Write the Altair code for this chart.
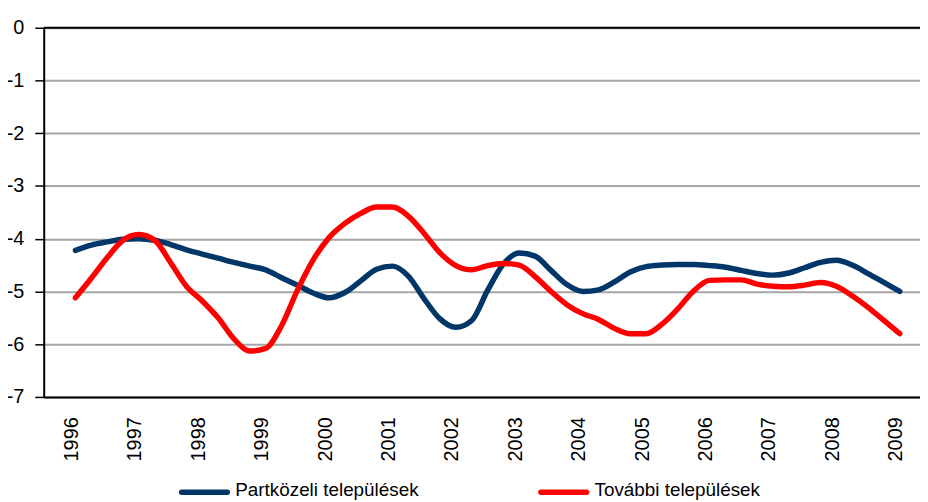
import altair as alt
import pandas as pd

# quarterly periods 1996 Q1 .. 2009 Q1
periods = [1996 + q / 4 for q in range(53)]

partkozeli = [
    -4.22, -4.12, -4.06, -4.01, -4.00, -4.03, -4.11, -4.21,
    -4.29, -4.37, -4.45, -4.52, -4.59, -4.74, -4.88, -5.03,
    -5.12, -5.02, -4.80, -4.58, -4.52, -4.71, -5.14, -5.52,
    -5.68, -5.55, -4.98, -4.48, -4.27, -4.33, -4.60, -4.87,
    -5.00, -4.97, -4.82, -4.63, -4.53, -4.50, -4.49, -4.49,
    -4.51, -4.54, -4.60, -4.66, -4.69, -4.65, -4.55, -4.45,
    -4.41, -4.50, -4.66, -4.83, -5.00,
]

tovabbi = [
    -5.12, -4.75, -4.36, -4.03, -3.92, -4.03, -4.45, -4.90,
    -5.18, -5.50, -5.90, -6.13, -6.08, -5.65, -4.98, -4.40,
    -3.98, -3.71, -3.52, -3.40, -3.40, -3.57, -3.90, -4.27,
    -4.51, -4.59, -4.51, -4.47, -4.50, -4.72, -5.00, -5.25,
    -5.42, -5.53, -5.70, -5.80, -5.80, -5.62, -5.33, -4.99,
    -4.79, -4.78, -4.78, -4.86, -4.90, -4.91, -4.88, -4.83,
    -4.90, -5.08, -5.30, -5.55, -5.80,
]

series_names = ["Partközeli települések", "További települések"]
series_colors = ["#003768", "#ff0000"]
year_ticks = list(range(1996, 2010))
y_ticks = [0, -1, -2, -3, -4, -5, -6, -7]

rows = []
for p, v in zip(periods, partkozeli):
    rows.append({"t": p, "v": v, "s": series_names[0]})
for p, v in zip(periods, tovabbi):
    rows.append({"t": p, "v": v, "s": series_names[1]})
df = pd.DataFrame(rows)

FONT = "Liberation Sans Narrow, Arial Narrow, Liberation Sans, Arial"

x_scale = alt.Scale(domain=[1995.5, 2009.32], nice=False, zero=False)
y_scale = alt.Scale(domain=[-7, 0], nice=False, zero=False)
color_scale = alt.Scale(domain=series_names, range=series_colors)

lines = alt.Chart(df).mark_line(
    strokeWidth=5.5, strokeCap="round", strokeJoin="round", interpolate="monotone"
).encode(
    x=alt.X("t:Q", scale=x_scale, title=None,
            axis=alt.Axis(values=year_ticks, format="d", labelAngle=-90,
                          labelFont=FONT, labelFontSize=20, labelColor="black",
                          labelPadding=20, ticks=False, grid=False,
                          domainColor="black", domainWidth=2, labelOffset=-4,
                          labelFlush=False, labelOverlap=False)),
    y=alt.Y("v:Q", scale=y_scale, title=None,
            axis=alt.Axis(values=y_ticks, labelExpr="toString(datum.value)",
                          labelFont=FONT, labelFontSize=20, labelColor="black",
                          tickSize=9, tickColor="black", tickWidth=1.5,
                          labelPadding=11, grid=True, gridColor="#a6a6a6",
                          gridWidth=2, domainColor="black", domainWidth=2)),
    color=alt.Color("s:N", scale=color_scale, legend=None),
)

top_line = alt.Chart(pd.DataFrame({"y": [0]})).mark_rule(
    color="black", strokeWidth=2
).encode(y=alt.Y("y:Q", scale=y_scale))

# manual legend (swatch + label for each series)
legend_layers = []
swatch_x = [136, 498]
for name, color, sx in zip(series_names, series_colors, swatch_x):
    ldf = pd.DataFrame({"s": [name]})
    sw = alt.Chart(ldf).mark_rule(strokeWidth=5.5, strokeCap="round", color=color).encode(
        x=alt.value(sx + 3), x2=alt.value(sx + 49), y=alt.value(468)
    )
    tx = alt.Chart(ldf).mark_text(
        align="left", baseline="alphabetic", font=FONT, fontSize=19, color="black"
    ).encode(x=alt.value(sx + 57), y=alt.value(472), text="s:N")
    legend_layers += [sw, tx]

chart = alt.layer(lines, top_line, *legend_layers).properties(
    width=883, height=372,
    autosize=alt.AutoSizeParams(type="none"),
    padding={"left": 36, "top": 18, "right": 0, "bottom": 110},
).configure_view(stroke=None).configure(background="white")

chart.save("out.html", embed_options={"renderer": "svg", "actions": False})
